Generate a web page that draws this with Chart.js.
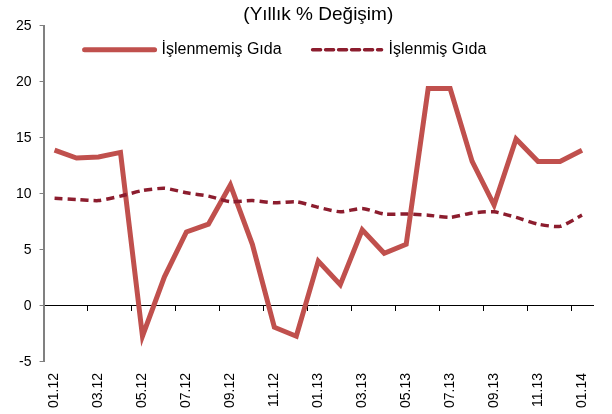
<!DOCTYPE html>
<html>
<head>
<meta charset="utf-8">
<title>Gıda fiyatları</title>
<script src="https://cdn.jsdelivr.net/npm/chart.js@4.4.0/dist/chart.umd.min.js"></script>
<style>
    html, body { margin: 0; padding: 0; background: #fff; }
</style>
</head>
<body>
<canvas id="gidaChart" width="612" height="414"></canvas>
<script>
// ===== Data =====
const months = [
    '01.12', '02.12', '03.12', '04.12', '05.12', '06.12', '07.12', '08.12', '09.12', '10.12', '11.12', '12.12',
    '01.13', '02.13', '03.13', '04.13', '05.13', '06.13', '07.13', '08.13', '09.13', '10.13', '11.13', '12.13',
    '01.14'
];
const islenmemisGida = [
    13.9, 13.2, 13.3, 13.7, -2.7, 2.6, 6.6, 7.3, 10.8, 5.5, -1.9, -2.7,
    4.0, 1.9, 6.8, 4.7, 5.5, 19.4, 19.4, 12.9, 9.0, 14.9, 12.9, 12.9,
    13.9
];
const islenmisGida = [
    9.6, 9.5, 9.4, 9.8, 10.3, 10.5, 10.1, 9.8, 9.3, 9.4, 9.2, 9.3,
    8.8, 8.4, 8.7, 8.2, 8.2, 8.1, 7.9, 8.3, 8.4, 7.9, 7.3, 7.1,
    8.1
];
const yTicks = [-5, 0, 5, 10, 15, 20, 25];

const FONT = "Arial, 'Liberation Sans', sans-serif";

// ===== Legend drawn inside the plot area =====
const insideLegend = {
    id: 'insideLegend',
    afterDraw(chart) {
        const ctx = chart.ctx;
        const area = chart.chartArea;
        const y = area.top + 24;
        const items = [
            { ds: chart.data.datasets[1], x: area.left + 41, w: 70 },
            { ds: chart.data.datasets[0], x: area.left + 269, w: 69 }
        ];
        ctx.save();
        ctx.font = '16px ' + FONT;
        ctx.textBaseline = 'middle';
        ctx.textAlign = 'left';
        items.forEach(item => {
            ctx.beginPath();
            ctx.strokeStyle = item.ds.borderColor;
            ctx.lineWidth = item.ds.borderWidth;
            ctx.setLineDash(item.ds.borderDash || []);
            ctx.lineCap = 'round';
            ctx.moveTo(item.x, y);
            ctx.lineTo(item.x + item.w, y);
            ctx.stroke();
            ctx.setLineDash([]);
            ctx.fillStyle = '#000';
            ctx.fillText(item.ds.label, item.x + item.w + 7, y);
        });
        ctx.restore();
    }
};

// ===== Chart =====
function initChart() {
    const ctx = document.getElementById('gidaChart');

    new Chart(ctx, {
        type: 'line',
        data: {
            labels: months,
            datasets: [{
                label: 'İşlenmiş Gıda',
                data: islenmisGida,
                borderColor: '#8C1D2E',
                borderWidth: 3.5,
                borderDash: [8, 5],
                pointRadius: 0,
                tension: 0.2,
                fill: false,
                order: 0
            }, {
                label: 'İşlenmemiş Gıda',
                data: islenmemisGida,
                borderColor: '#C0504D',
                borderWidth: 5,
                pointRadius: 0,
                tension: 0,
                fill: false,
                order: 1
            }]
        },
        options: {
            responsive: false,
            animation: false,
            layout: {
                padding: { left: 8, right: 19, top: 0, bottom: 3 }
            },
            plugins: {
                legend: { display: false },
                tooltip: { enabled: false },
                title: {
                    display: true,
                    text: '(Yıllık % Değişim)',
                    fullSize: false,
                    color: '#000',
                    font: { family: FONT, size: 19, weight: 'normal' },
                    padding: { top: 3, bottom: 0 }
                }
            },
            scales: {
                x: {
                    position: { y: 0 },
                    offset: true,
                    border: { color: '#000', width: 1 },
                    grid: {
                        offset: true,
                        drawOnChartArea: false,
                        drawTicks: true,
                        tickLength: 5,
                        color: (c) => (c.index % 2 === 0 ? '#000' : 'rgba(0,0,0,0)')
                    },
                    ticks: { display: false }
                },
                x2: {
                    type: 'category',
                    labels: months,
                    position: 'bottom',
                    offset: true,
                    border: { display: false },
                    grid: {
                        drawOnChartArea: false,
                        drawTicks: true,
                        tickLength: 8,
                        color: 'rgba(0,0,0,0)'
                    },
                    ticks: {
                        autoSkip: false,
                        minRotation: 90,
                        maxRotation: 90,
                        padding: 3,
                        color: '#000',
                        font: { family: FONT, size: 14 },
                        callback: (v, i) => (i % 2 === 0 ? months[i] : '')
                    }
                },
                y: {
                    min: -5,
                    max: 25,
                    afterBuildTicks: (axis) => {
                        axis.ticks = yTicks.map(v => ({ value: v }));
                    },
                    border: { color: '#808080', width: 2 },
                    grid: {
                        drawOnChartArea: false,
                        drawTicks: true,
                        tickLength: 4,
                        color: '#808080'
                    },
                    ticks: {
                        padding: 8,
                        color: '#000',
                        font: { family: FONT, size: 14 }
                    }
                }
            }
        },
        plugins: [insideLegend]
    });
}

document.addEventListener('DOMContentLoaded', initChart);
</script>
</body>
</html>
